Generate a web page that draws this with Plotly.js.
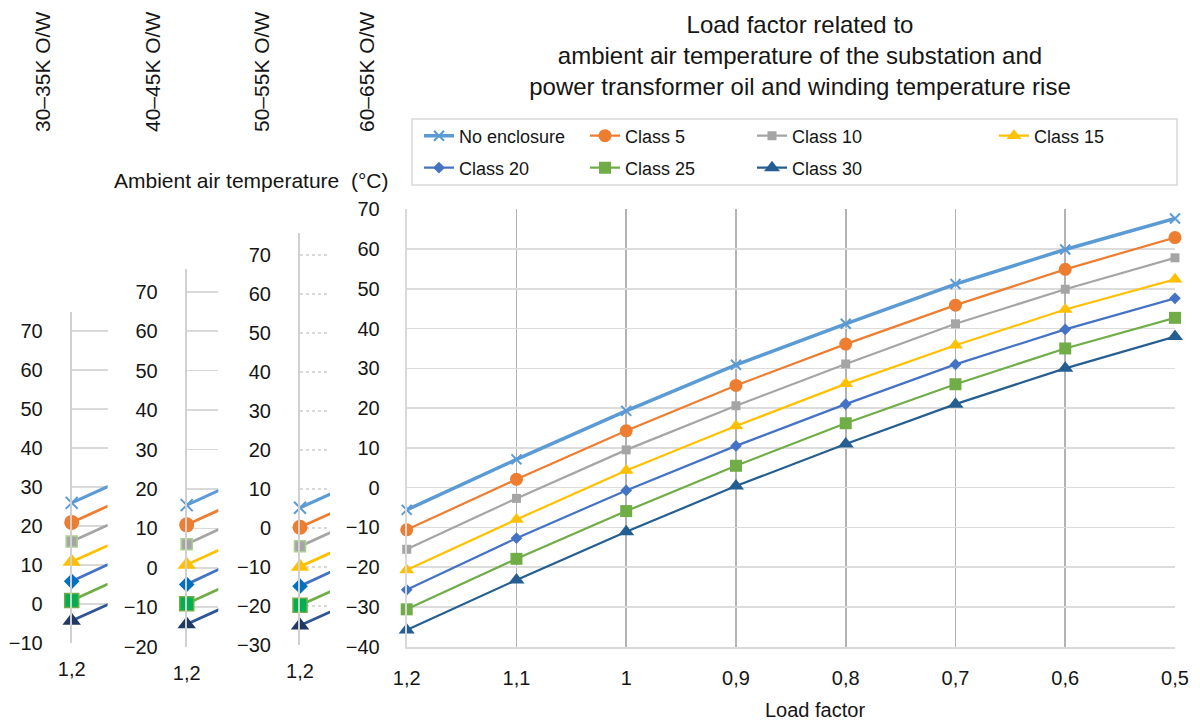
<!DOCTYPE html>
<html>
<head>
<meta charset="utf-8">
<script src="https://cdn.plot.ly/plotly-3.0.1.min.js"></script>
<style>html,body{margin:0;padding:0;background:#fff;}#chart{width:1200px;height:720px;}</style>
</head>
<body>
<div id="chart"></div>
<script>
// ---- data ----
const loadFactor = [1.2, 1.1, 1.0, 0.9, 0.8, 0.7, 0.6, 0.5];
const xTickText = ['1,2', '1,1', '1', '0,9', '0,8', '0,7', '0,6', '0,5'];
const seriesNames = ['No enclosure', 'Class 5', 'Class 10', 'Class 15', 'Class 20', 'Class 25', 'Class 30'];
const noEnclosure = [-5.6, 7.1, 19.3, 30.9, 41.2, 51.2, 59.9, 67.7];
const class5  = [-10.6, 2.1, 14.3, 25.7, 36.1, 45.9, 54.9, 62.9];
const class10 = [-15.5, -2.7, 9.5, 20.6, 31.1, 41.2, 49.9, 57.8];
const class15 = [-20.7, -8.0, 4.3, 15.5, 26.1, 35.8, 44.8, 52.4];
const class20 = [-25.7, -12.7, -0.7, 10.5, 21.0, 31.0, 39.8, 47.6];
const class25 = [-30.6, -17.9, -5.9, 5.5, 16.2, 26.0, 35.0, 42.7];
const class30 = [-35.8, -23.2, -11.1, 0.4, 11.0, 21.0, 30.0, 38.0];
const panelLabels = ['30–35K O/W', '40–45K O/W', '50–55K O/W', '60–65K O/W'];
const panelShift = [31.5, 21.5, 10.8];   // temperature-rise shift of the small side axes
const mainYTicks = [-40, -30, -20, -10, 0, 10, 20, 30, 40, 50, 60, 70];

const allSeries = [noEnclosure, class5, class10, class15, class20, class25, class30];

// ---- styles ----
const W = 1200, H = 720;
const px = v => v / W;
const py = v => 1 - v / H;
const FONT = 'Liberation Sans, Arial, Helvetica, sans-serif';
const TXT = '#151515';
const colors = ['#5b9bd5', '#ed7d31', '#a5a5a5', '#ffc000', '#4472c4', '#70ad47', '#255e91'];
const symbols = ['x-thin-open', 'circle', 'square', 'triangle-up', 'diamond', 'square', 'triangle-up'];
const sizes = [10, 13, 9, 13, 9, 12, 14];
const widths = [3.5, 2.2, 2.2, 2.2, 2.2, 2.2, 2.2];
// side panels use slightly different (darker) marker colours
const pColors = ['#5b9bd5', '#ed7d31', '#a5a5a5', '#ffc000', '#0070c0', '#00b050', '#1f3864'];
const pLineColors = ['#5b9bd5', '#ed7d31', '#a5a5a5', '#ffc000', '#4472c4', '#70ad47', '#2f5597'];
const pOutline = ['#5b9bd5', '#ed7d31', '#a9d18e', '#ffc000', '#0070c0', '#70ad47', '#1f3864'];
const pSizes = [12, 15, 11, 16, 12, 14, 16];

const legendCols = [419, 585, 752, 994];
const legendRows = [136, 168];
const legendSlots = [[0,0],[1,0],[2,0],[3,0],[0,1],[1,1],[2,1]];

const traces = [];
const layout = {
  width: W, height: H,
  margin: {l: 0, r: 0, t: 0, b: 0},
  paper_bgcolor: '#ffffff', plot_bgcolor: 'rgba(0,0,0,0)',
  font: {family: FONT, size: 20, color: TXT},
  showlegend: true,
  title: {
    text: 'Load factor related to<br>ambient air temperature of the substation and<br>power transformer oil and winding temperature rise',
    x: px(800), xanchor: 'center', xref: 'paper',
    y: py(33), yanchor: 'top', yref: 'paper',
    font: {family: FONT, size: 24, color: TXT}
  },
  annotations: [],
  shapes: []
};

// main chart traces
allSeries.forEach((vals, i) => {
  const lg = i === 0 ? 'legend' : 'legend' + (i + 1);
  traces.push({
    type: 'scatter', mode: 'lines+markers', name: seriesNames[i],
    x: loadFactor, y: vals, xaxis: 'x', yaxis: 'y',
    legend: lg, showlegend: true, cliponaxis: false,
    line: {color: colors[i], width: widths[i]},
    marker: {symbol: symbols[i], size: sizes[i], color: colors[i],
             line: {color: colors[i], width: i === 0 ? 2 : 0}}
  });
  const [c, r] = legendSlots[i];
  layout[lg] = {
    x: px(legendCols[c]), xanchor: 'left', xref: 'paper',
    y: py(legendRows[r]), yanchor: 'middle', yref: 'paper',
    bgcolor: 'rgba(0,0,0,0)', borderwidth: 0,
    font: {family: FONT, size: 18, color: TXT}
  };
});

// main axes
layout.xaxis = {
  domain: [px(406.7), px(1175)], range: [1.2, 0.5], anchor: 'y',
  tickmode: 'array', tickvals: loadFactor, ticktext: xTickText,
  showgrid: true, gridcolor: '#b3b3b3', gridwidth: 1.8,
  zeroline: false, showline: true, linecolor: '#d9d9d9', linewidth: 2,
  ticks: '', ticklabelstandoff: 12,
  tickfont: {family: FONT, size: 20, color: TXT}
};
layout.yaxis = {
  domain: [py(646.7), py(209.3)], range: [-40, 70], anchor: 'x',
  tickmode: 'array', tickvals: mainYTicks,
  showgrid: true, gridcolor: '#dcdcdc', gridwidth: 1.6,
  zeroline: false, showline: true, linecolor: '#d9d9d9', linewidth: 2,
  ticks: '', ticklabelstandoff: 21,
  tickfont: {family: FONT, size: 20, color: TXT}
};

// side panels (first segment of the curves against other temperature-rise scales)
const panels = [
  {axisX: 71.7,  rightX: 107.5, top: 311.7, bottom: 643,   yr: [-10, 74.9], dash: 'solid'},
  {axisX: 186.7, rightX: 218.3, top: 269.3, bottom: 646.7, yr: [-20, 75.7], dash: 'solid'},
  {axisX: 300,   rightX: 330,   top: 233.3, bottom: 645,   yr: [-30, 75.6], dash: 'dot'}
];
const segPx = (1175 - 406.7) / 7; // pixels per 0.1 load-factor step on the main chart
panels.forEach((p, k) => {
  const n = k + 2;
  const xa = 'xaxis' + n, ya = 'yaxis' + n;
  const span = 0.1 * (p.rightX - p.axisX) / segPx;
  const ticks = [];
  for (let t = p.yr[0]; t <= 70; t += 10) ticks.push(t);
  layout[xa] = {
    domain: [px(p.axisX), px(p.rightX)], range: [loadFactor[0], loadFactor[0] - span], anchor: 'y' + n,
    tickmode: 'array', tickvals: [loadFactor[0]], ticktext: [xTickText[0]],
    showgrid: false, zeroline: false, showline: false, ticks: '', ticklabelstandoff: 12,
    tickfont: {family: FONT, size: 20, color: TXT}
  };
  layout[ya] = {
    domain: [py(p.bottom), py(p.top)], range: p.yr, anchor: 'x' + n,
    tickmode: 'array', tickvals: ticks,
    showgrid: true, gridcolor: '#d9d9d9', gridwidth: 1.6, griddash: p.dash,
    zeroline: false, showline: true, linecolor: '#d0d0d0', linewidth: 2,
    ticks: '', ticklabelstandoff: 23,
    tickfont: {family: FONT, size: 20, color: TXT}
  };
  allSeries.forEach((vals, i) => {
    traces.push({
      type: 'scatter', mode: 'lines+markers', showlegend: false,
      x: loadFactor, y: vals.map(v => v + panelShift[k]),
      xaxis: 'x' + n, yaxis: 'y' + n, cliponaxis: false,
      line: {color: pLineColors[i], width: i === 0 ? 3 : 2.8},
      marker: {symbol: symbols[i], size: pSizes[i], color: pColors[i],
               line: {color: pOutline[i], width: i === 0 ? 2 : (i === 2 || i === 5 ? 1.5 : 0)}}
    });
  });
});

// legend frame
layout.shapes.push({
  type: 'rect', xref: 'paper', yref: 'paper',
  x0: px(412), x1: px(1177), y0: py(185), y1: py(119),
  line: {color: '#d9d9d9', width: 1.5}, fillcolor: 'rgba(0,0,0,0)'
});

// rotated group labels
const labelX = [43, 153, 262, 367];
panelLabels.forEach((t, i) => {
  layout.annotations.push({
    text: t, textangle: -90, xref: 'paper', yref: 'paper',
    x: px(labelX[i]), y: py(10), xanchor: 'center', yanchor: 'top',
    showarrow: false, font: {family: FONT, size: 21, color: TXT}
  });
});
layout.annotations.push({
  text: 'Ambient air temperature  (°C)', xref: 'paper', yref: 'paper',
  x: px(112), y: py(180), xanchor: 'left', yanchor: 'middle',
  showarrow: false, font: {family: FONT, size: 21, color: TXT}
});
layout.annotations.push({
  text: 'Load factor', xref: 'paper', yref: 'paper',
  x: px(815), y: py(710), xanchor: 'center', yanchor: 'middle',
  showarrow: false, font: {family: FONT, size: 20, color: TXT}
});

Plotly.newPlot('chart', traces, layout, {staticPlot: true, displayModeBar: false});
</script>
</body>
</html>
